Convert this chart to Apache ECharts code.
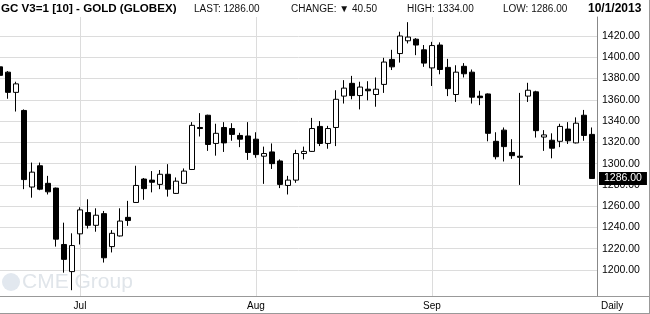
<!DOCTYPE html>
<html><head><meta charset="utf-8">
<script src="https://cdn.jsdelivr.net/npm/echarts@6/dist/echarts.min.js"></script>
<style>html,body{margin:0;padding:0;background:#fff;overflow:hidden}#c{width:650px;height:314px}</style>
</head><body><div id="c"></div>
<script>
// Trading days shown (daily bars)
const dates = [
 '2013-06-17','2013-06-18','2013-06-19','2013-06-20','2013-06-21',
 '2013-06-24','2013-06-25','2013-06-26','2013-06-27','2013-06-28',
 '2013-07-01','2013-07-02','2013-07-03','2013-07-05',
 '2013-07-08','2013-07-09','2013-07-10','2013-07-11','2013-07-12',
 '2013-07-15','2013-07-16','2013-07-17','2013-07-18','2013-07-19',
 '2013-07-22','2013-07-23','2013-07-24','2013-07-25','2013-07-26',
 '2013-07-29','2013-07-30','2013-07-31',
 '2013-08-01','2013-08-02',
 '2013-08-05','2013-08-06','2013-08-07','2013-08-08','2013-08-09',
 '2013-08-12','2013-08-13','2013-08-14','2013-08-15','2013-08-16',
 '2013-08-19','2013-08-20','2013-08-21','2013-08-22','2013-08-23',
 '2013-08-26','2013-08-27','2013-08-28','2013-08-29','2013-08-30',
 '2013-09-03','2013-09-04','2013-09-05','2013-09-06',
 '2013-09-09','2013-09-10','2013-09-11','2013-09-12','2013-09-13',
 '2013-09-16','2013-09-17','2013-09-18','2013-09-19','2013-09-20',
 '2013-09-23','2013-09-24','2013-09-25','2013-09-26','2013-09-27',
 '2013-09-30','2013-10-01'
];
const openVals = [
 1391,1386,1367,1350,1278,1298,1281.5,1277,1224,1198.5,
 1234,1254,1242,1253,1222,1232,1249.5,1263.5,1285.5,1284.5,
 1280.5,1290,1272,1281.5,1294.5,1334,1345.5,1319,1334,1333,
 1326.5,1326,1323,1307,1311,1302.5,1279.5,1284.5,1309.5,1311.5,
 1335,1319,1334,1363.5,1375.5,1364,1370,1365,1374.5,1398,
 1403.5,1415.5,1417,1407,1390,1411.5,1390.5,1365,1391.5,1386,
 1363.5,1365.5,1321,1331.5,1310.5,1307,1363.5,1367.5,1325,1322,
 1321,1332.5,1319.5,1345.5,1327.5
];
const closeVals = [
 1383,1367,1375,1285,1292,1276,1273.5,1229,1210,1223,
 1256.5,1242,1251.5,1211.5,1234.5,1246,1246.5,1279.5,1276.5,1282.5,
 1290,1276,1283.5,1293,1336,1333,1318,1328.5,1319.5,1327.5,
 1323,1310.5,1308.5,1309.5,1300,1280.5,1284.5,1309.5,1311.5,1333,
 1319,1333,1360.5,1371,1364,1372,1368.5,1370,1395.5,1391,
 1420,1419,1411.5,1394.5,1411,1388.5,1370.5,1386,1384.5,1362.5,
 1362,1328.5,1306.5,1316,1307.5,1306,1369,1331,1327,1314.5,
 1335,1321.5,1338,1326.5,1286
];
const lowVals = [
 1381,1361,1349,1276,1268,1275,1271,1222,1197.5,1181,
 1224,1239,1236,1207,1216.5,1231.5,1241.5,1263,1266,1273,
 1276,1269,1271.5,1281,1294,1325.5,1312,1307.5,1311,1321.5,
 1315.5,1303.5,1305.5,1281,1295,1277,1271,1282,1304,1311,
 1316.5,1314,1316.5,1356.5,1360.5,1351,1359.5,1353.5,1366.5,1388,
 1395,1413,1402,1391,1373,1384,1363.5,1358,1381,1356.5,
 1355,1321,1304,1302,1304.5,1280,1358,1324.5,1312,1305,
 1315.5,1318.5,1319,1321.5,1286
];
const highVals = [
 1393,1387,1377,1351,1301,1301,1288.5,1277.5,1244.5,1234.5,
 1259,1266.5,1258,1255.5,1237.5,1258,1265,1298,1286.5,1293,
 1294,1299.5,1287,1295.5,1339,1347.5,1346,1337.5,1339,1338,
 1329,1339,1329.5,1316,1319,1304,1288.5,1313,1316,1343,
 1340,1335.5,1369,1378.5,1382.5,1377,1377.5,1381,1399.5,1407,
 1424,1433,1418,1411.5,1414.5,1414,1398.5,1392.5,1394.5,1388.5,
 1368.5,1366,1329.5,1334,1323,1366.5,1376,1368.5,1331.5,1328.5,
 1337.5,1339,1343.5,1350.5,1334
];
const yTicks = [1200, 1420, 20];      // first label, last label, step
const monthLabels = { '07': 'Jul', '08': 'Aug', '09': 'Sep' };
const lastPrice = 1286.00;
const headerTitle = 'GC V3=1 [10] - GOLD (GLOBEX)';
const headerLast = 'LAST: 1286.00';
const headerChange = 'CHANGE: \u25BC 40.50';
const headerHigh = 'HIGH: 1334.00';
const headerLow = 'LOW: 1286.00';
const headerDate = '10/1/2013';

const FONT = 'Liberation Sans, Arial, sans-serif';
const candleData = dates.map((d, i) => [openVals[i], closeVals[i], lowVals[i], highVals[i]]);
function isMonthStart(i) {
  return i > 0 && dates[i].slice(5, 7) !== dates[i - 1].slice(5, 7) && monthLabels[dates[i].slice(5, 7)] !== undefined;
}

// price scale: 1420 at y=36, 1200 at y=270, plot from y=17 to y=296
const pxPerUnit = 234 / 220;
const yMax = 1420 + 19 / pxPerUnit;
const yMin = 1200 - 26 / pxPerUnit;

const chart = echarts.init(document.getElementById('c'), null, { renderer: 'canvas' });
chart.setOption({
  animation: false,
  grid: [
    { left: 0, right: 58, top: 17, bottom: 18 },
    { left: 0, right: 53, top: 36, bottom: 44 }
  ],
  xAxis: [
    {
      type: 'category', gridIndex: 0, data: dates, boundaryGap: false,
      axisLine: { show: false }, axisTick: { show: false },
      axisLabel: {
        interval: (i) => isMonthStart(i),
        formatter: (v) => monthLabels[v.slice(5, 7)] || '',
        fontSize: 10, color: '#000', margin: 5, fontFamily: FONT
      },
      splitLine: { show: true, interval: (i) => isMonthStart(i), lineStyle: { color: '#dcdcdc', width: 1 } }
    },
    { type: 'value', gridIndex: 1, show: false }
  ],
  yAxis: [
    {
      type: 'value', gridIndex: 0, min: yMin, max: yMax, position: 'right', offset: 5,
      axisLine: { show: true, lineStyle: { color: '#888', width: 1 } },
      axisTick: { show: false }, axisLabel: { show: false }, splitLine: { show: false }
    },
    {
      type: 'value', gridIndex: 1, min: yTicks[0], max: yTicks[1], interval: yTicks[2], position: 'right',
      axisLine: { show: false }, axisTick: { show: false },
      splitLine: { show: true, lineStyle: { color: '#dcdcdc', width: 1 } },
      axisLabel: {
        margin: 5, formatter: (v) => v.toFixed(2), fontSize: 10.5, color: '#000',
        fontFamily: FONT, padding: [4, 0, 0, 0]
      }
    }
  ],
  series: [{
    type: 'candlestick', xAxisIndex: 0, yAxisIndex: 0, data: candleData,
    barWidth: 5, clip: false,
    itemStyle: { color: '#fff', color0: '#000', borderColor: '#000', borderColor0: '#000', borderColorDoji: '#000', borderWidth: 1 },
    emphasis: { disabled: true },
    markLine: {
      silent: true, animation: false, symbol: ['none', 'none'],
      lineStyle: { color: 'rgba(0,0,0,0)', width: 1, type: 'solid' },
      data: [{ yAxis: lastPrice }],
      label: {
        show: true, position: 'end', distance: 7, formatter: (p) => Number(p.value).toFixed(2),
        backgroundColor: '#000', color: '#fff', fontSize: 10.5, fontFamily: FONT,
        padding: [1, 5, 0, 5], lineHeight: 12
      }
    }
  }],
  graphic: [
    { type: 'group', z: 0, silent: true, children: [
      { type: 'circle', shape: { cx: 11, cy: 282, r: 9 }, style: { fill: '#e2e8ef' } },
      { type: 'text', x: 22, y: 282, style: { text: 'CME Group', font: '21px ' + FONT, fill: '#e0e5ea', verticalAlign: 'middle' } }
    ]},
    { type: 'text', x: 1, y: 9, z: 10, style: { text: headerTitle, font: 'bold 11.6px ' + FONT, fill: '#000', verticalAlign: 'middle' } },
    { type: 'text', x: 194, y: 9, z: 10, style: { text: headerLast, font: '10px ' + FONT, fill: '#111', verticalAlign: 'middle' } },
    { type: 'text', x: 291, y: 9, z: 10, style: { text: headerChange, font: '10px ' + FONT, fill: '#111', verticalAlign: 'middle' } },
    { type: 'text', x: 407, y: 9, z: 10, style: { text: headerHigh, font: '10px ' + FONT, fill: '#111', verticalAlign: 'middle' } },
    { type: 'text', x: 503, y: 9, z: 10, style: { text: headerLow, font: '10px ' + FONT, fill: '#111', verticalAlign: 'middle' } },
    { type: 'text', x: 588, y: 9, z: 10, style: { text: headerDate, font: 'bold 12px ' + FONT, fill: '#000', verticalAlign: 'middle' } },
    { type: 'text', x: 601, y: 306, z: 10, style: { text: 'Daily', font: '10px ' + FONT, fill: '#000', verticalAlign: 'middle' } },
    { type: 'line', z: 10, shape: { x1: 0, y1: 296.5, x2: 650, y2: 296.5 }, style: { stroke: '#999', lineWidth: 1 } },
    { type: 'line', z: 10, shape: { x1: 0, y1: 313.5, x2: 650, y2: 313.5 }, style: { stroke: '#999', lineWidth: 1 } },
    { type: 'line', z: 10, shape: { x1: 649.5, y1: 0, x2: 649.5, y2: 314 }, style: { stroke: '#999', lineWidth: 1 } }
  ]
});
</script>
</body></html>
